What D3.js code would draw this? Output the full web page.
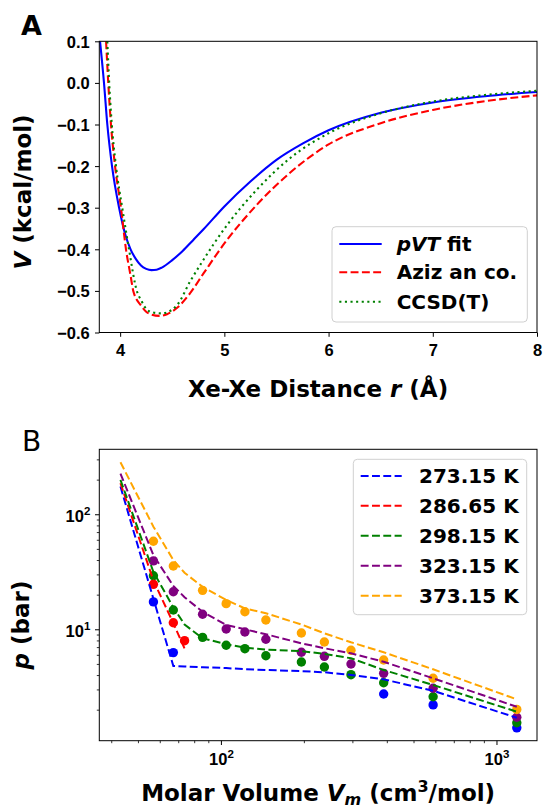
<!DOCTYPE html>
<html>
<head>
<meta charset="utf-8">
<script src="https://cdn.jsdelivr.net/npm/d3@7"></script>
<style>
body { margin: 0; background: #fff; }
svg { display: block; font-family: "DejaVu Sans", sans-serif; }
</style>
</head>
<body>
<div id="chart"></div>
<script>
var width = 543;
var height = 809;

// ---- panel A: pair potentials (r in Angstrom, V in kcal/mol)
var pvtR = [3.807, 3.845, 3.877, 3.922, 3.99, 4.05, 4.10, 4.15, 4.20, 4.25, 4.30, 4.35, 4.40, 4.50, 4.60, 4.70, 4.80, 5.00, 5.25, 5.50, 5.75, 6.00, 6.50, 7.00, 7.50, 8.00];
var pvtV = [0.10, 0.0, -0.10, -0.20, -0.30, -0.365, -0.400, -0.423, -0.439, -0.447, -0.450, -0.449, -0.444, -0.426, -0.404, -0.378, -0.352, -0.297, -0.237, -0.185, -0.146, -0.114, -0.072, -0.047, -0.032, -0.022];

var azizR = [3.865, 3.886, 3.912, 3.951, 4.008, 4.056, 4.10, 4.126, 4.20, 4.25, 4.30, 4.376, 4.45, 4.55, 4.67, 4.80, 5.00, 5.31, 5.63, 6.00, 6.50, 7.00, 7.50, 8.00];
var azizV = [0.10, 0.0, -0.10, -0.20, -0.30, -0.40, -0.463, -0.50, -0.535, -0.550, -0.557, -0.560, -0.556, -0.540, -0.506, -0.458, -0.386, -0.2935, -0.216, -0.148, -0.097, -0.065, -0.044, -0.030];

var ccsdR = [3.877, 3.895, 3.92, 3.96, 4.02, 4.085, 4.16, 4.20, 4.25, 4.30, 4.40, 4.50, 4.55, 4.67, 4.80, 4.99, 5.31, 5.63, 6.00, 6.50, 7.00, 7.50, 8.00];
var ccsdV = [0.10, 0.0, -0.10, -0.20, -0.30, -0.40, -0.50, -0.522, -0.543, -0.551, -0.554, -0.545, -0.533, -0.478, -0.425, -0.354, -0.257, -0.181, -0.121, -0.073, -0.045, -0.029, -0.019];

var xTicksA = [4, 5, 6, 7, 8];
var yTicksA = [0.1, 0.0, -0.1, -0.2, -0.3, -0.4, -0.5, -0.6];
var potNames = ["pVT fit", "Aziz an co.", "CCSD(T)"];

// ---- panel B: isotherms (V in cm3/mol, p in bar)
var tempNames = ["273.15 K", "286.65 K", "298.15 K", "323.15 K", "373.15 K"];
var tempColors = ["blue", "red", "green", "purple", "orange"];

var volGrid = [43.2, 56.9, 67.2, 73.8, 85.8, 104.5, 122.2, 145.6, 195.9, 237.4, 296.5, 389.6, 589, 1185];
var fit273 = [174, 18.4, 4.80, 4.75, 4.68, 4.60, 4.50, 4.43, 4.33, 4.23, 4.01, 3.67, 2.92, 1.70];
var fit286 = [186, 26.5, 11.3, 6.8];
var fit298 = [199, 31.5, 15.5, 11.0, 8.36, 7.41, 6.92, 6.65, 6.47, 6.10, 5.60, 4.43, 3.28, 1.92];
var fit323 = [226, 44, 23.8, 19.0, 14.2, 10.9, 10.0, 9.06, 7.55, 6.84, 6.18, 5.22, 3.75, 2.12];
var fit373 = [283, 78, 40, 31, 23.4, 18.0, 15.2, 13.8, 11.0, 9.23, 7.71, 6.31, 4.49, 2.46];

var obsVol273 = [56.9, 67.2, 389.6, 589, 1185];
var obsP273 = [17.3, 6.27, 2.74, 2.20, 1.39];
var obsVol286 = [56.9, 67.2, 73.8];
var obsP286 = [24.6, 11.4, 7.96];
var obsVol = [56.9, 67.2, 85.8, 104.5, 122.2, 145.6, 195.9, 237.4, 296.5, 389.6, 589, 1185];
var obsP298 = [29.2, 14.7, 8.51, 7.26, 6.78, 5.89, 5.20, 4.70, 4.03, 3.43, 2.59, 1.54];
var obsP323 = [39.3, 21.2, 13.5, 10.06, 9.48, 8.19, 6.31, 5.82, 4.99, 4.14, 3.07, 1.72];
var obsP373 = [58.2, 35.5, 21.8, 16.7, 14.2, 12.05, 9.29, 7.76, 6.57, 5.41, 3.75, 2.01];

var xMajorB = [100, 1000];
var xMinorB = [40, 50, 60, 70, 80, 90, 200, 300, 400, 500, 600, 700, 800, 900];
var yMajorB = [10, 100];
var yMinorB = [2, 3, 4, 5, 6, 7, 8, 9, 20, 30, 40, 50, 60, 70, 80, 90, 200, 300];

var svg = d3.select("#chart")
    .append("svg")
    .attr("width", width)
    .attr("height", height);

var left = 99.3, right = 537;
var aTop = 41.3, aBottom = 332.5;
var bTop = 449.3, bBottom = 740.7;

var dashed = "7.9,3.4";
var dotted = "2.1,3.5";

function styleTicks(g, size) {
  g.select(".domain").remove();
  g.selectAll(".tick line").attr("stroke", "#000").attr("stroke-width", 1);
  g.selectAll("text")
    .attr("fill", "#000")
    .style("font-size", size + "px")
    .style("font-weight", "bold");
}

function supLabel(sel) {
  sel.each(function(d) {
    var t = d3.select(this);
    t.text("10");
    t.append("tspan").attr("dy", -7).style("font-size", "11.5px").text(Math.round(Math.log10(d)));
  });
}

//Panel A
{
var xA = d3.scaleLinear().domain([3.8, 8]).range([left, right]);
var yA = d3.scaleLinear().domain([-0.6, 0.1]).range([aBottom, aTop]);

svg.append("clipPath").attr("id", "clipA")
  .append("rect").attr("x", left).attr("y", aTop)
  .attr("width", right - left).attr("height", aBottom - aTop);

var lineA = d3.line()
  .x(function(d) { return xA(d[0]); })
  .y(function(d) { return yA(d[1]); })
  .curve(d3.curveMonotoneX);

var potCurves = [
  {r: pvtR, v: pvtV, color: "blue", dash: null},
  {r: azizR, v: azizV, color: "red", dash: dashed},
  {r: ccsdR, v: ccsdV, color: "green", dash: dotted}
];

svg.append("g").attr("clip-path", "url(#clipA)")
  .selectAll("path")
  .data(potCurves)
  .enter()
  .append("path")
  .attr("d", function(c) { return lineA(d3.zip(c.r, c.v)); })
  .attr("fill", "none")
  .attr("stroke", function(c) { return c.color; })
  .attr("stroke-width", 2.1)
  .attr("stroke-dasharray", function(c) { return c.dash; });

var axA = svg.append("g")
  .attr("transform", "translate(0," + aBottom + ")")
  .call(d3.axisBottom(xA).tickValues(xTicksA).tickSize(4.3).tickFormat(d3.format("d")));
styleTicks(axA, 16.5);
axA.selectAll("text").attr("y", 23.5).attr("dy", null);

var ayA = svg.append("g")
  .attr("transform", "translate(" + left + ",0)")
  .call(d3.axisLeft(yA).tickValues(yTicksA).tickSize(4.3).tickFormat(d3.format(".1f")));
styleTicks(ayA, 16.5);
ayA.selectAll("text").attr("x", -9.5).attr("dy", "0.36em");

svg.append("rect")
  .attr("x", left).attr("y", aTop)
  .attr("width", right - left).attr("height", aBottom - aTop)
  .attr("fill", "none").attr("stroke", "#000").attr("stroke-width", 1);

// legend
var legA = svg.append("g");
legA.append("rect")
  .attr("x", 332).attr("y", 226.7).attr("width", 195.3).attr("height", 95.3)
  .attr("rx", 4).attr("fill", "#fff").attr("fill-opacity", 0.8)
  .attr("stroke", "#d0d0d0").attr("stroke-width", 1);

var legRowsA = [244, 272.3, 301.7];
potCurves.forEach(function(c, i) {
  legA.append("line")
    .attr("x1", 339.3).attr("x2", 381.7)
    .attr("y1", legRowsA[i]).attr("y2", legRowsA[i])
    .attr("stroke", c.color).attr("stroke-width", 2.1)
    .attr("stroke-dasharray", c.dash);
  var t = legA.append("text")
    .attr("x", 396.7).attr("y", legRowsA[i] + 6.8)
    .style("font-size", "20px").style("font-weight", "bold");
  if (i == 0) {
    t.append("tspan").style("font-style", "italic").text("pVT");
    t.append("tspan").text(" fit");
  } else {
    t.text(potNames[i]);
  }
});

var xlabA = svg.append("text")
  .attr("x", (left + right) / 2).attr("y", 397)
  .attr("text-anchor", "middle")
  .style("font-size", "23px").style("font-weight", "bold");
xlabA.append("tspan").text("Xe-Xe Distance ");
xlabA.append("tspan").style("font-style", "italic").text("r");
xlabA.append("tspan").text(" (Å)");

var ylabA = svg.append("text")
  .attr("transform", "translate(31,192) rotate(-90)")
  .attr("text-anchor", "middle")
  .style("font-size", "23px").style("font-weight", "bold");
ylabA.append("tspan").style("font-style", "italic").text("V");
ylabA.append("tspan").text(" (kcal/mol)");

svg.append("text")
  .attr("x", 21).attr("y", 34.5)
  .style("font-size", "27px").style("font-weight", "bold")
  .text("A");
}

//Panel B
{
var xB = d3.scaleLog().domain([36.2, 1403]).range([left, right]);
var yB = d3.scaleLog().domain([1.075, 367]).range([bBottom, bTop]);

svg.append("clipPath").attr("id", "clipB")
  .append("rect").attr("x", left).attr("y", bTop)
  .attr("width", right - left).attr("height", bBottom - bTop);

var isotherms = [
  {fit: fit273, vol: obsVol273, p: obsP273},
  {fit: fit286, vol: obsVol286, p: obsP286},
  {fit: fit298, vol: obsVol, p: obsP298},
  {fit: fit323, vol: obsVol, p: obsP323},
  {fit: fit373, vol: obsVol, p: obsP373}
];

var lineB = d3.line()
  .x(function(d) { return xB(d[0]); })
  .y(function(d) { return yB(d[1]); });

var plotB = svg.append("g").attr("clip-path", "url(#clipB)");

isotherms.forEach(function(iso, i) {
  plotB.selectAll(".dot" + i)
    .data(d3.zip(iso.vol, iso.p))
    .enter()
    .append("circle")
    .attr("class", "dot" + i)
    .attr("cx", function(d) { return xB(d[0]); })
    .attr("cy", function(d) { return yB(d[1]); })
    .attr("r", 4.7)
    .attr("fill", tempColors[i]);
});

isotherms.forEach(function(iso, i) {
  plotB.append("path")
    .attr("d", lineB(d3.zip(volGrid.slice(0, iso.fit.length), iso.fit)))
    .attr("fill", "none")
    .attr("stroke", tempColors[i])
    .attr("stroke-width", 2)
    .attr("stroke-dasharray", dashed);
});

var axB = svg.append("g")
  .attr("transform", "translate(0," + bBottom + ")")
  .call(d3.axisBottom(xB).tickValues(xMajorB).tickSize(4.3));
styleTicks(axB, 16.5);
axB.selectAll("text").attr("y", 24.3).attr("dy", null).call(supLabel);

var axBminor = svg.append("g")
  .attr("transform", "translate(0," + bBottom + ")")
  .call(d3.axisBottom(xB).tickValues(xMinorB).tickSize(2.5).tickFormat(""));
styleTicks(axBminor, 16);
axBminor.selectAll(".tick line").attr("stroke-width", 0.8);

var ayB = svg.append("g")
  .attr("transform", "translate(" + left + ",0)")
  .call(d3.axisLeft(yB).tickValues(yMajorB).tickSize(4.3));
styleTicks(ayB, 16.5);
ayB.selectAll("text").attr("x", -9).attr("dy", "0.42em").call(supLabel);

var ayBminor = svg.append("g")
  .attr("transform", "translate(" + left + ",0)")
  .call(d3.axisLeft(yB).tickValues(yMinorB).tickSize(2.5).tickFormat(""));
styleTicks(ayBminor, 16);
ayBminor.selectAll(".tick line").attr("stroke-width", 0.8);

svg.append("rect")
  .attr("x", left).attr("y", bTop)
  .attr("width", right - left).attr("height", bBottom - bTop)
  .attr("fill", "none").attr("stroke", "#000").attr("stroke-width", 1);

// legend
var legB = svg.append("g");
legB.append("rect")
  .attr("x", 353.3).attr("y", 459.3).attr("width", 173.4).attr("height", 155.4)
  .attr("rx", 4).attr("fill", "#fff").attr("fill-opacity", 0.8)
  .attr("stroke", "#d0d0d0").attr("stroke-width", 1);

var legRowsB = [476, 505.8, 535.7, 565.7, 595.7];
tempNames.forEach(function(name, i) {
  legB.append("line")
    .attr("x1", 360.7).attr("x2", 401.7)
    .attr("y1", legRowsB[i]).attr("y2", legRowsB[i])
    .attr("stroke", tempColors[i]).attr("stroke-width", 2)
    .attr("stroke-dasharray", dashed);
  legB.append("text")
    .attr("x", 419).attr("y", legRowsB[i] + 7.3)
    .style("font-size", "20px").style("font-weight", "bold")
    .text(name);
});

var xlabB = svg.append("text")
  .attr("x", (left + right) / 2).attr("y", 801)
  .attr("text-anchor", "middle")
  .style("font-size", "23px").style("font-weight", "bold");
xlabB.append("tspan").text("Molar Volume ");
xlabB.append("tspan").style("font-style", "italic").text("V");
xlabB.append("tspan").attr("dy", 3.5).style("font-style", "italic").style("font-size", "16px").text("m");
xlabB.append("tspan").attr("dy", -3.5).text(" (cm");
xlabB.append("tspan").attr("dy", -9).style("font-size", "16px").text("3");
xlabB.append("tspan").attr("dy", 9).text("/mol)");

var ylabB = svg.append("text")
  .attr("transform", "translate(29,625) rotate(-90)")
  .attr("text-anchor", "middle")
  .style("font-size", "23px").style("font-weight", "bold");
ylabB.append("tspan").style("font-style", "italic").text("p");
ylabB.append("tspan").text(" (bar)");

svg.append("text")
  .attr("x", 22).attr("y", 451)
  .style("font-size", "28px")
  .text("B");
}
</script>
</body>
</html>
